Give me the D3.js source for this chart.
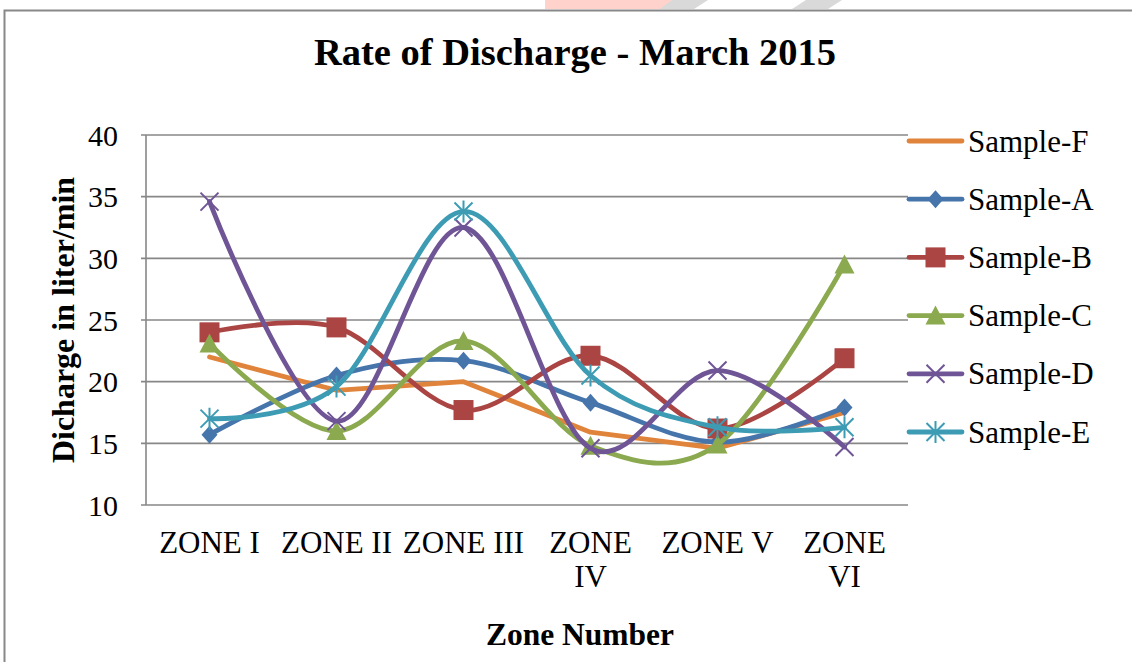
<!DOCTYPE html>
<html>
<head>
<meta charset="utf-8">
<script src="https://cdn.jsdelivr.net/npm/d3@7"></script>
<style>
  html, body { margin: 0; padding: 0; background: #fff; }
  svg text { font-family: "Liberation Serif", "Times New Roman", serif; fill: #000; }
</style>
</head>
<body>
<div id="chart" style="width:1132px;height:662px;"></div>
<script>
// --- Data ---
const zones = ["ZONE I", "ZONE II", "ZONE III", "ZONE IV", "ZONE V", "ZONE VI"];
const zoneLabelLines = [["ZONE I"], ["ZONE II"], ["ZONE III"], ["ZONE", "IV"], ["ZONE V"], ["ZONE", "VI"]];
const yTicks = [10, 15, 20, 25, 30, 35, 40];

const sampleF = [22.0, 19.3, 20.0, 15.9, 14.6, 17.5];
const sampleA = [15.7, 20.5, 21.7, 18.3, 15.1, 17.9];
const sampleB = [24.0, 24.4, 17.7, 22.1, 16.2, 21.9];
const sampleC = [23.1, 16.0, 23.3, 14.8, 14.9, 29.5];
const sampleD = [34.6, 16.8, 32.5, 14.6, 20.9, 14.7];
const sampleE = [17.0, 19.6, 33.8, 20.5, 16.3, 16.3];

const seriesNames = ["Sample-F", "Sample-A", "Sample-B", "Sample-C", "Sample-D", "Sample-E"];
const seriesValues = [sampleF, sampleA, sampleB, sampleC, sampleD, sampleE];
const seriesColors = ["#e0843c", "#4675ac", "#aa4543", "#8ba94e", "#6f5596", "#3d9cb4"];
const seriesMarkers = ["none", "diamond", "square", "triangle", "x", "asterisk"];
const seriesSmooth = [false, true, true, true, true, true];

const width = 1132, height = 662;
const plot = { left: 146, right: 908, top: 135, bottom: 505 };

const svg = d3.select("#chart").append("svg")
  .attr("width", width)
  .attr("height", height);

// faint watermark remnants above the frame
svg.append("path")
  .attr("d", "M545,0 L672,0 L664,9 L545,9 Z")
  .attr("fill", "#ffd3cb");
svg.append("path")
  .attr("d", "M672,0 L708,0 L694,9 L660,9 Z")
  .attr("fill", "#d9d9d9");
svg.append("path")
  .attr("d", "M806,0 L842,0 L828,9 L792,9 Z")
  .attr("fill", "#d9d9d9");

// chart frame
svg.append("rect")
  .attr("x", 4.5).attr("y", 10.5)
  .attr("width", 1142).attr("height", 700)
  .attr("fill", "none")
  .attr("stroke", "#888")
  .attr("stroke-width", 2);

// --- Scales ---
const x = d3.scaleBand()
  .domain(zones)
  .range([plot.left, plot.right]);

const y = d3.scaleLinear()
  .domain([10, 40])
  .range([plot.bottom, plot.top]);

const cx = (i) => x(zones[i]) + x.bandwidth() / 2;

// --- Gridlines ---
svg.append("g")
  .selectAll("line")
  .data(yTicks)
  .join("line")
  .attr("x1", plot.left - 5)
  .attr("x2", plot.right)
  .attr("y1", (d) => y(d))
  .attr("y2", (d) => y(d))
  .attr("stroke", "#878787")
  .attr("stroke-width", 1.6);

// y axis line
svg.append("line")
  .attr("x1", plot.left).attr("x2", plot.left)
  .attr("y1", plot.top).attr("y2", plot.bottom)
  .attr("stroke", "#878787")
  .attr("stroke-width", 1.6);

// y tick labels
svg.append("g")
  .selectAll("text")
  .data(yTicks)
  .join("text")
  .attr("x", 118)
  .attr("y", (d) => y(d) + 10.5)
  .attr("text-anchor", "end")
  .style("font-size", "30px")
  .text((d) => d);

// x tick labels
const xl = svg.append("g")
  .selectAll("text")
  .data(zones)
  .join("text")
  .attr("text-anchor", "middle")
  .style("font-size", "31px");

xl.each(function (d, i) {
  d3.select(this)
    .selectAll("tspan")
    .data(zoneLabelLines[i])
    .join("tspan")
    .attr("x", cx(i))
    .attr("y", (t, j) => 553 + j * 34)
    .text((t) => t);
});

// --- Titles ---
svg.append("text")
  .attr("x", 575)
  .attr("y", 65)
  .attr("text-anchor", "middle")
  .style("font-size", "38.5px")
  .style("font-weight", "bold")
  .text("Rate of Discharge - March 2015");

svg.append("text")
  .attr("x", 580)
  .attr("y", 645)
  .attr("text-anchor", "middle")
  .style("font-size", "31.5px")
  .style("font-weight", "bold")
  .text("Zone Number");

svg.append("text")
  .attr("transform", "translate(74," + (plot.top + plot.bottom) / 2 + ") rotate(-90)")
  .attr("text-anchor", "middle")
  .style("font-size", "32px")
  .style("font-weight", "bold")
  .text("Dicharge in liter/min");

// --- Markers ---
function drawMarker(g, type, px, py, color) {
  if (type === "diamond") {
    g.append("path")
      .attr("d", `M${px},${py - 9} L${px + 8},${py} L${px},${py + 9} L${px - 8},${py} Z`)
      .attr("fill", color);
  } else if (type === "square") {
    g.append("rect")
      .attr("x", px - 10).attr("y", py - 10)
      .attr("width", 20).attr("height", 20)
      .attr("fill", color);
  } else if (type === "triangle") {
    g.append("path")
      .attr("d", `M${px},${py - 10} L${px + 10},${py + 9} L${px - 10},${py + 9} Z`)
      .attr("fill", color);
  } else if (type === "x" || type === "asterisk") {
    let d = `M${px - 9},${py - 9} L${px + 9},${py + 9} M${px + 9},${py - 9} L${px - 9},${py + 9}`;
    if (type === "asterisk") d += ` M${px},${py - 11} L${px},${py + 11}`;
    g.append("path")
      .attr("d", d)
      .attr("fill", "none")
      .attr("stroke", color)
      .attr("stroke-width", 2);
  }
}

// --- Lines ---
const linear = d3.line()
  .x((d, i) => cx(i))
  .y((d) => y(d))
  .curve(d3.curveLinear);

const smooth = d3.line()
  .x((d, i) => cx(i))
  .y((d) => y(d))
  .curve(d3.curveCardinal.tension(0));

seriesNames.forEach((name, s) => {
  const g = svg.append("g").attr("class", "series");
  g.append("path")
    .datum(seriesValues[s])
    .attr("d", seriesSmooth[s] ? smooth : linear)
    .attr("fill", "none")
    .attr("stroke", seriesColors[s])
    .attr("stroke-width", 4.8)
    .attr("stroke-linecap", "round")
    .attr("stroke-linejoin", "round");
  seriesValues[s].forEach((v, i) => {
    drawMarker(g, seriesMarkers[s], cx(i), y(v), seriesColors[s]);
  });
});

// --- Legend ---
const legend = svg.append("g");
seriesNames.forEach((name, s) => {
  const ly = 141 + s * 58.2;
  const g = legend.append("g");
  g.append("line")
    .attr("x1", 909).attr("x2", 962)
    .attr("y1", ly).attr("y2", ly)
    .attr("stroke", seriesColors[s])
    .attr("stroke-width", 4.8)
    .attr("stroke-linecap", "round");
  drawMarker(g, seriesMarkers[s], 935.5, ly, seriesColors[s]);
  g.append("text")
    .attr("x", 968)
    .attr("y", ly + 10.5)
    .style("font-size", "31px")
    .text(name);
});
</script>
</body>
</html>
